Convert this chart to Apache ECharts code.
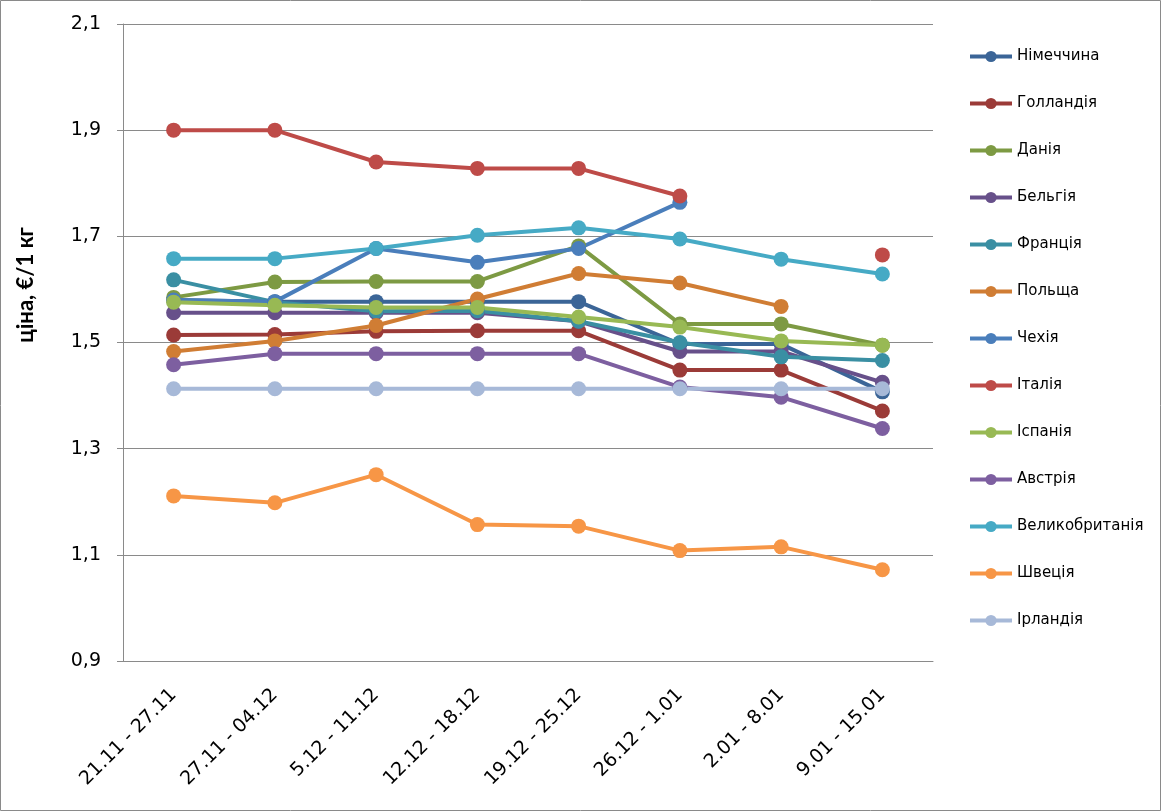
<!DOCTYPE html>
<html>
<head>
<meta charset="utf-8">
<script src="https://cdn.jsdelivr.net/npm/echarts@6/dist/echarts.min.js"></script>
<style>
html,body{margin:0;padding:0;background:#fff;}
#c{width:1161px;height:811px;}
</style>
</head>
<body>
<div id="c"></div>
<script>
var categories = ['21.11 - 27.11','27.11 - 04.12','5.12 - 11.12','12.12 - 18.12','19.12 - 25.12','26.12 - 1.01','2.01 - 8.01','9.01 - 15.01'];
var seriesNames = ['Німеччина','Голландія','Данія','Бельгія','Франція','Польща','Чехія','Італія','Іспанія','Австрія','Великобританія','Швеція','Ірландія'];
var germany     = [1.580, 1.577, 1.577, 1.577, 1.577, 1.497, 1.497, 1.407];
var netherlands = [1.514, 1.515, 1.521, 1.522, 1.522, 1.448, 1.448, 1.371];
var denmark     = [1.585, 1.614, 1.615, 1.615, 1.682, 1.535, 1.535, 1.495];
var belgium     = [1.556, 1.556, 1.556, 1.556, 1.540, 1.483, 1.483, 1.425];
var france      = [1.618, 1.576, 1.559, 1.560, 1.540, 1.500, 1.473, 1.466];
var poland      = [1.483, 1.503, 1.532, 1.582, 1.630, 1.612, 1.568, null];
var czechia     = [1.580, 1.577, 1.677, 1.651, 1.677, 1.764, null, null];
var italy       = [1.900, 1.900, 1.840, 1.828, 1.828, 1.776, null, 1.665];
var spain       = [1.576, 1.570, 1.566, 1.566, 1.548, 1.529, 1.503, 1.495];
var austria     = [1.458, 1.479, 1.479, 1.479, 1.479, 1.416, 1.397, 1.338];
var uk          = [1.658, 1.658, 1.677, 1.702, 1.716, 1.695, 1.657, 1.629];
var sweden      = [1.211, 1.198, 1.251, 1.157, 1.154, 1.108, 1.115, 1.072];
var ireland     = [1.413, 1.413, 1.413, 1.413, 1.413, 1.413, 1.413, 1.413];
var yTicks = [0.9, 1.1, 1.3, 1.5, 1.7, 1.9, 2.1];
var yAxisTitle = 'ціна, €/1 кг';

var allData = [germany, netherlands, denmark, belgium, france, poland, czechia, italy, spain, austria, uk, sweden, ireland];
var colors = ['#3B6597','#9B3B38','#7D9A43','#67508A','#3A8FA3','#D07D34','#4A7EBB','#BE4B48','#98B954','#7D5FA0','#46AAC5','#F79646','#A7B9D8'];
var FONT = '"DejaVu Sans", Verdana, sans-serif';

var series = seriesNames.map(function(n, i){
  return {
    name: n, type: 'line', data: allData[i],
    symbol: 'circle', symbolSize: 15, connectNulls: false,
    lineStyle: {width: 4, color: colors[i]},
    itemStyle: {color: colors[i]},
    emphasis: {disabled: true},
    animation: false
  };
});

var chart = echarts.init(document.getElementById('c'));
chart.setOption({
  animation: false,
  color: colors,
  grid: {left: 123, right: 228, top: 24, bottom: 150, containLabel: false},
  graphic: [
    {type: 'rect', shape: {x: 0.5, y: 0.5, width: 1160, height: 810}, style: {fill: 'none', stroke: '#8a8a8a', lineWidth: 1}, silent: true},
    {type: 'text', x: 26, y: 285, rotation: Math.PI / 2,
     style: {text: yAxisTitle, fontFamily: 'Lato, "Open Sans", sans-serif', fontSize: 22, fontWeight: 'bold', fill: '#000', align: 'center', verticalAlign: 'middle'},
     silent: true}
  ],
  legend: {
    orient: 'vertical', left: 963, top: 44,
    itemWidth: 42, itemHeight: 14, itemGap: 32,
    lineStyle: {width: 4},
    textStyle: {fontFamily: FONT, fontSize: 15, color: '#000'},
    data: seriesNames
  },
  xAxis: {
    type: 'category', data: categories, boundaryGap: true,
    axisLine: {lineStyle: {color: '#8a8a8a', width: 1}},
    axisTick: {show: false},
    axisLabel: {rotate: 45, fontFamily: FONT, fontSize: 19, color: '#000', margin: 31, interval: 0}
  },
  yAxis: {
    type: 'value', min: yTicks[0], max: yTicks[yTicks.length - 1], interval: 0.2,
    axisLine: {show: true, lineStyle: {color: '#8a8a8a', width: 1}},
    axisTick: {show: true, inside: false, length: 6, lineStyle: {color: '#8a8a8a'}},
    splitLine: {show: true, lineStyle: {color: '#8a8a8a', width: 1}},
    axisLabel: {
      fontFamily: FONT, fontSize: 19, color: '#000', margin: 22,
      formatter: function(v){ return v.toFixed(1).replace('.', ','); }
    }
  },
  series: series
});
</script>
</body>
</html>
